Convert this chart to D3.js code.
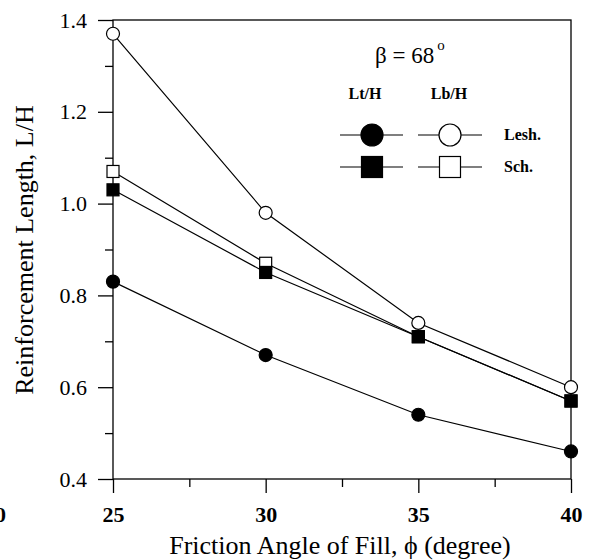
<!DOCTYPE html>
<html>
<head>
<meta charset="utf-8">
<script src="https://cdn.jsdelivr.net/npm/d3@7"></script>
<style>
body { margin: 0; background: #fff; }
svg { font-family: "Liberation Serif", "DejaVu Serif", serif; }
</style>
</head>
<body>
<div id="chart"></div>
<script>
// data
const phi = [25, 30, 35, 40];
const leshTop = [0.83, 0.67, 0.54, 0.46];   // Lt/H, filled circle
const leshBot = [1.37, 0.98, 0.74, 0.60];   // Lb/H, open circle
const schTop  = [1.03, 0.85, 0.71, 0.57];   // Lt/H, filled square
const schBot  = [1.07, 0.87, 0.71, 0.57];   // Lb/H, open square
const xTicks = [25, 30, 35, 40];
const xMinor = [27.5, 32.5, 37.5];
const yTicks = [0.4, 0.6, 0.8, 1.0, 1.2, 1.4];
const yMinor = [0.5, 0.7, 0.9, 1.1, 1.3];

const W = 590, H = 560;
const pl = 113, pr = 571, pt = 20, pb = 479;

const svg = d3.select("#chart").append("svg")
  .attr("width", W).attr("height", H);

const x = d3.scaleLinear().domain([25, 40]).range([pl, pr]);
const y = d3.scaleLinear().domain([0.4, 1.4]).range([pb, pt]);

// frame
svg.append("rect")
  .attr("x", pl).attr("y", pt)
  .attr("width", pr - pl).attr("height", pb - pt)
  .attr("fill", "none").attr("stroke", "#000").attr("stroke-width", 1.3);

// x axis
const gx = svg.append("g").attr("transform", `translate(0,${pb})`)
  .call(d3.axisBottom(x).tickValues(xTicks).tickSize(14).tickPadding(13).tickFormat(d3.format("d")));
svg.append("g").attr("transform", `translate(0,${pb})`)
  .call(d3.axisBottom(x).tickValues(xMinor).tickSize(8).tickFormat(""));
// y axis
const gy = svg.append("g").attr("transform", `translate(${pl},0)`)
  .call(d3.axisLeft(y).tickValues(yTicks).tickSize(15).tickPadding(11).tickFormat(d3.format(".1f")));
svg.append("g").attr("transform", `translate(${pl},0)`)
  .call(d3.axisLeft(y).tickValues(yMinor).tickSize(8).tickFormat(""));

svg.selectAll(".domain").remove();
svg.selectAll(".tick line").attr("stroke", "#000").attr("stroke-width", 1.3);
svg.selectAll(".tick text")
  .attr("fill", "#000")
  .style("font-family", "'Liberation Serif', serif")
  .style("font-size", "22px");
gx.selectAll(".tick text").style("font-weight", "bold");

// cut-off label of the neighbouring figure
svg.append("text").attr("x", -5).attr("y", 522)
  .attr("text-anchor", "middle")
  .style("font-size", "22px").style("font-weight", "bold")
  .text("40");

// axis titles
svg.append("text")
  .attr("x", 340).attr("y", 554)
  .attr("text-anchor", "middle")
  .style("font-size", "26px")
  .text("Friction Angle of Fill, \u03D5  (degree)");

svg.append("text")
  .attr("transform", "translate(33,250) rotate(-90)")
  .attr("text-anchor", "middle")
  .style("font-size", "26px")
  .text("Reinforcement Length, L/H");

// series
const series = [
  { vals: leshBot, shape: "circle", fill: "#fff" },
  { vals: schBot,  shape: "square", fill: "#fff" },
  { vals: schTop,  shape: "square", fill: "#000" },
  { vals: leshTop, shape: "circle", fill: "#000" }
];

const line = d3.line().x((d, i) => x(phi[i])).y(d => y(d));

series.forEach(s => {
  svg.append("path")
    .attr("d", line(s.vals))
    .attr("fill", "none").attr("stroke", "#000").attr("stroke-width", 1.2);
});

function marker(g, shape, fill, cx, cy, size) {
  if (shape === "circle") {
    g.append("circle").attr("cx", cx).attr("cy", cy).attr("r", size / 2)
      .attr("fill", fill).attr("stroke", "#000").attr("stroke-width", 1.2);
  } else {
    g.append("rect").attr("x", cx - size / 2).attr("y", cy - size / 2)
      .attr("width", size).attr("height", size)
      .attr("fill", fill).attr("stroke", "#000").attr("stroke-width", 1.2);
  }
}

series.forEach(s => {
  const g = svg.append("g");
  s.vals.forEach((v, i) => {
    marker(g, s.shape, s.fill, x(phi[i]), y(v), s.shape === "circle" ? 13 : 12);
  });
});

// legend
const beta = svg.append("text").attr("x", 375).attr("y", 63)
  .style("font-size", "23px");
beta.append("tspan").text("\u03B2 = 68");
beta.append("tspan").attr("dy", -13).attr("dx", 3).style("font-size", "15px").text("o");

svg.append("text").attr("x", 365).attr("y", 99).attr("text-anchor", "middle")
  .style("font-size", "16px").style("font-weight", "bold").text("Lt/H");
svg.append("text").attr("x", 449).attr("y", 99).attr("text-anchor", "middle")
  .style("font-size", "16px").style("font-weight", "bold").text("Lb/H");

const legRows = [
  { label: "Lesh.", shape: "circle", y: 135 },
  { label: "Sch.",  shape: "square", y: 167 }
];
const legCols = [{ x1: 340, x2: 403, cx: 372, fill: "#000" },
                 { x1: 418, x2: 482, cx: 450, fill: "#fff" }];
legRows.forEach(r => {
  legCols.forEach(c => {
    const g = svg.append("g");
    g.append("line").attr("x1", c.x1).attr("x2", c.x2)
      .attr("y1", r.y).attr("y2", r.y)
      .attr("stroke", "#000").attr("stroke-width", 1.2);
    marker(g, r.shape, c.fill, c.cx, r.y, r.shape === "circle" ? 22 : 21);
  });
  svg.append("text").attr("x", 504).attr("y", r.y + 5)
    .style("font-size", "16px").style("font-weight", "bold").text(r.label);
});
</script>
</body>
</html>
